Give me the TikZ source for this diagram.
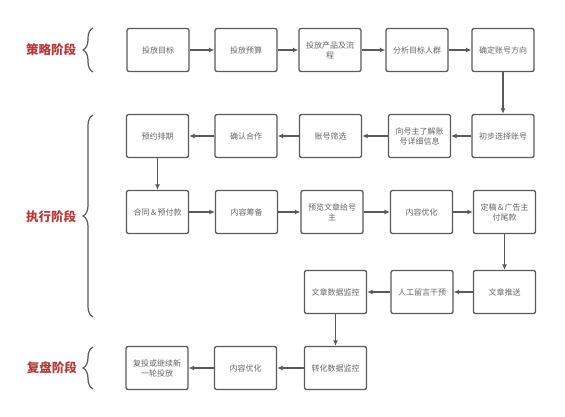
\documentclass[tikz,border=0pt]{standalone}
\usepackage{fontspec}
\newfontfamily\cjk{Noto Sans CJK SC}
\usetikzlibrary{arrows.meta,decorations.pathreplacing}
\definecolor{boxline}{HTML}{5A5A5A}
\definecolor{boxtext}{HTML}{666666}
\definecolor{stagered}{HTML}{B53A3A}
\tikzset{
  stepbox/.style={draw=boxline, line width=1.3pt, rounded corners=2pt,
    minimum width=62pt, minimum height=43pt, align=center, inner sep=1pt,
    text=boxtext, font=\cjk\fontsize{8}{10}\selectfont},
  flow/.style={draw=boxline, line width=1.1pt, -{Latex[length=5.5pt,width=5pt]}},
  stagelabel/.style={text=stagered, font=\cjk\bfseries\fontsize{12.5}{14}\selectfont},
  stagebrace/.style={draw=boxline, line width=1.2pt, decorate,
    decoration={brace, amplitude=10pt}}
}
\begin{document}
\begin{tikzpicture}[x=1pt,y=-1pt]
\useasboundingbox[fill=white] (0,0) rectangle (565,417);
% stage labels and braces
\node[stagelabel] (s1) at (51,50) {策略阶段};
\node[stagelabel] (s2) at (51,217) {执行阶段};
\node[stagelabel] (s3) at (52,368) {复盘阶段};
\coordinate (b1t) at (93,28);  \coordinate (b1b) at (93,72);
\coordinate (b2t) at (93,115); \coordinate (b2b) at (93,317);
\coordinate (b3t) at (93,347); \coordinate (b3b) at (93,389);
\draw[stagebrace] (b1b) -- (b1t);
\draw[stagebrace] (b2b) -- (b2t);
\draw[stagebrace] (b3b) -- (b3t);
% row 1
\node[stepbox] (r1a) at (158,50) {投放目标};
\node[stepbox] (r1b) at (246,50) {投放预算};
\node[stepbox] (r1c) at (330,50) {投放产品及流\\程};
\node[stepbox] (r1d) at (417,50) {分析目标人群};
\node[stepbox] (r1e) at (503,50) {确定账号方向};
% row 2
\node[stepbox] (r2a) at (157.5,136) {预约排期};
\node[stepbox] (r2b) at (246,136) {确认合作};
\node[stepbox] (r2c) at (330.5,136) {账号筛选};
\node[stepbox] (r2d) at (419.5,136) {向号主了解账\\号详细信息};
\node[stepbox] (r2e) at (503,136) {初步选择账号};
% row 3
\node[stepbox] (r3a) at (157.5,212) {合同＆预付款};
\node[stepbox] (r3b) at (246.5,212) {内容筹备};
\node[stepbox] (r3c) at (332,212) {预览文章给号\\主};
\node[stepbox] (r3d) at (421.5,212) {内容优化};
\node[stepbox] (r3e) at (504.5,212) {定稿＆广告主\\付尾款};
% row 4
\node[stepbox] (r4c) at (335.5,292) {文章数据监控};
\node[stepbox] (r4d) at (422,292) {人工留言干预};
\node[stepbox] (r4e) at (504.5,292) {文章推送};
% row 5
\node[stepbox] (r5a) at (157,368) {复投或继续新\\一轮投放};
\node[stepbox] (r5b) at (245.5,368) {内容优化};
\node[stepbox] (r5c) at (335.5,368) {转化数据监控};
% connectors
\draw[flow] (r1a) -- (r1b);
\draw[flow] (r1b) -- (r1c);
\draw[flow] (r1c) -- (r1d);
\draw[flow] (r1d) -- (r1e);
\draw[flow] (r1e) -- (r2e);
\draw[flow] (r2e) -- (r2d);
\draw[flow] (r2d) -- (r2c);
\draw[flow] (r2c) -- (r2b);
\draw[flow] (r2b) -- (r2a);
\draw[flow] (r2a) -- (r3a);
\draw[flow] (r3a) -- (r3b);
\draw[flow] (r3b) -- (r3c);
\draw[flow] (r3c) -- (r3d);
\draw[flow] (r3d) -- (r3e);
\draw[flow] (r3e) -- (r4e);
\draw[flow] (r4e) -- (r4d);
\draw[flow] (r4d) -- (r4c);
\draw[flow] (r4c) -- (r5c);
\draw[flow] (r5c) -- (r5b);
\draw[flow] (r5b) -- (r5a);
\end{tikzpicture}
\end{document}
